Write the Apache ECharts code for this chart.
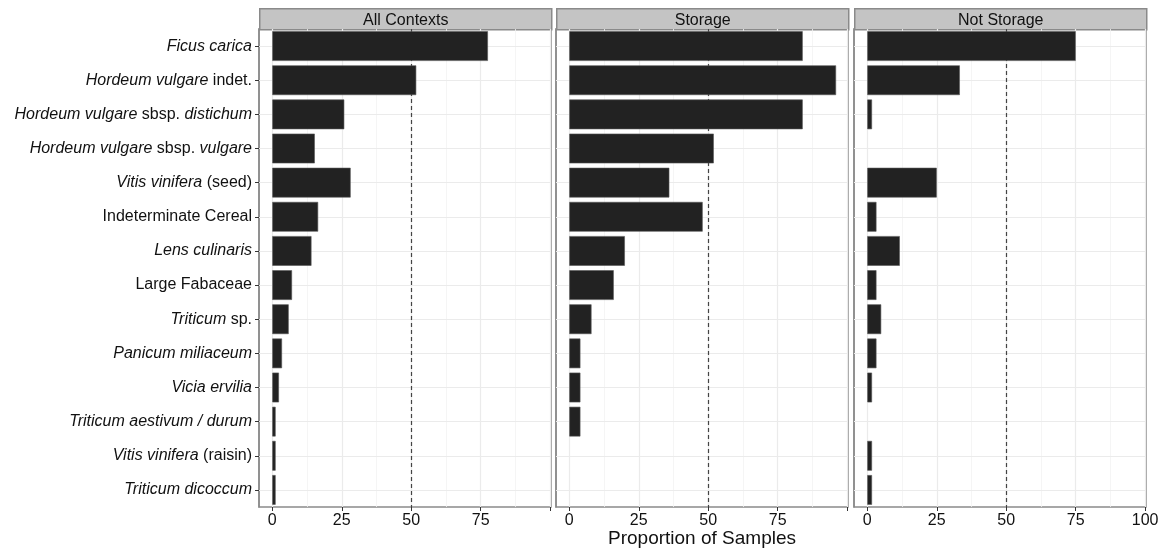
<!DOCTYPE html>
<html>
<head>
<meta charset="utf-8">
<title>Proportion of Samples</title>
<script src="https://cdn.jsdelivr.net/npm/echarts@6/dist/echarts.min.js"></script>
<style>
  html, body { margin: 0; padding: 0; background: #ffffff; }
  #chart { width: 1163px; height: 552px; }
</style>
</head>
<body>
<div id="chart"></div>
<script>
// Taxa, top to bottom; {i|...} marks the italic (Latin) part of each name
const categories = [
  '{i|Ficus carica}',
  '{i|Hordeum vulgare}{n| indet.}',
  '{i|Hordeum vulgare}{n| sbsp. }{i|distichum}',
  '{i|Hordeum vulgare}{n| sbsp. }{i|vulgare}',
  '{i|Vitis vinifera}{n| (seed)}',
  '{n|Indeterminate Cereal}',
  '{i|Lens culinaris}',
  '{n|Large Fabaceae}',
  '{i|Triticum}{n| sp.}',
  '{i|Panicum miliaceum}',
  '{i|Vicia ervilia}',
  '{i|Triticum aestivum / durum}',
  '{i|Vitis vinifera}{n| (raisin)}',
  '{i|Triticum dicoccum}'
];

// Facet titles
const panels = ['All Contexts', 'Storage', 'Not Storage'];

// Proportion of samples (%) in which each taxon occurs
const allContexts = [77.6, 51.8, 25.9, 15.3, 28.2, 16.5, 14.1, 7.1, 5.9, 3.5, 2.4, 1.2, 1.2, 1.2];
const storage     = [84, 96, 84, 52, 36, 48, 20, 16, 8, 4, 4, 4, 0, 0];
const notStorage  = [75, 33.3, 1.7, 0, 25, 3.3, 11.7, 3.3, 5, 3.3, 1.7, 0, 1.7, 1.7];

// Axis breaks
const majorTicks = [0, 25, 50, 75, 100];
const minorTicks = [12.5, 37.5, 62.5, 87.5];
const refLine = 50;

const seriesValues = [allContexts, storage, notStorage];

const FONT = '"Liberation Sans", Arial, Helvetica, sans-serif';
const GRID_COLOR = '#ebebeb';
const BORDER_COLOR = '#8a8a8a';

const panelLeft = [259, 556, 854];
const panelWidth = 292;
const panelTop = 29;
const panelHeight = 478;
const stripHeight = 21;

const chart = echarts.init(document.getElementById('chart'), null, { renderer: 'canvas' });

const grids = [], xAxes = [], yAxes = [], series = [], graphics = [];

panels.forEach((name, k) => {
  grids.push({
    left: panelLeft[k], top: panelTop, width: panelWidth, height: panelHeight,
    show: true, backgroundColor: '#ffffff',
    borderColor: BORDER_COLOR, borderWidth: 1.5,
    containLabel: false,
    outerBoundsMode: 'none'
  });

  xAxes.push({
    type: 'value', gridIndex: k,
    min: -4.78, max: 100.3,
    axisLine: { show: false },
    axisTick: {
      show: true, length: 4, inside: false,
      customValues: majorTicks,
      lineStyle: { color: '#333333', width: 1 }
    },
    axisLabel: {
      show: true, margin: 6,
      customValues: k === panels.length - 1 ? majorTicks : majorTicks.slice(0, -1),
      fontFamily: FONT, fontSize: 16, color: '#111111'
    },
    splitLine: { show: false },
    minorSplitLine: { show: false },
    name: k === 1 ? 'Proportion of Samples' : '',
    nameLocation: 'middle', nameGap: 22,
    nameMoveOverlap: false,
    nameTextStyle: { fontFamily: FONT, fontSize: 19, color: '#111111' }
  });

  yAxes.push({
    type: 'category', gridIndex: k, inverse: true,
    data: categories,
    axisLine: { show: true, onZero: false, lineStyle: { color: BORDER_COLOR, width: 1.5 } },
    axisTick: {
      show: k === 0, alignWithLabel: true, length: 4, inside: false,
      lineStyle: { color: '#333333', width: 1 }
    },
    axisLabel: {
      show: k === 0, margin: 7,
      fontFamily: FONT, fontSize: 16, color: '#111111',
      formatter: v => v,
      rich: {
        i: { fontFamily: FONT, fontSize: 16, fontStyle: 'italic', color: '#111111' },
        n: { fontFamily: FONT, fontSize: 16, fontStyle: 'normal', color: '#111111' }
      }
    },
    splitLine: { show: false }
  });

  // Background grid: major and minor verticals, one horizontal per taxon
  const gridLines = [];
  minorTicks.forEach(v => gridLines.push({ xAxis: v, lineStyle: { color: '#f2f2f2', width: 0.8, type: 'solid' } }));
  majorTicks.forEach(v => gridLines.push({ xAxis: v, lineStyle: { color: GRID_COLOR, width: 1.2, type: 'solid' } }));
  categories.forEach(c => gridLines.push({ yAxis: c, lineStyle: { color: GRID_COLOR, width: 1.2, type: 'solid' } }));
  gridLines.push({ xAxis: refLine, lineStyle: { color: '#444444', width: 1.2, type: [4, 3] } });

  series.push({
    type: 'bar', name: name,
    xAxisIndex: k, yAxisIndex: k,
    // taxa absent from a context get no outline, so nothing is drawn for them
    data: seriesValues[k].map(v => ({
      value: v,
      itemStyle: { borderWidth: v > 0 ? 0.6 : 0 }
    })),
    barWidth: '87%',
    z: 3,
    itemStyle: { color: '#222222', borderColor: '#555555' },
    silent: true,
    animation: false,
    markLine: {
      silent: true, symbol: 'none', z: 1,
      label: { show: false },
      emphasis: { disabled: true },
      animation: false,
      data: gridLines
    }
  });

  // Facet strip
  graphics.push({
    type: 'group',
    left: panelLeft[k], top: panelTop - stripHeight,
    children: [
      {
        type: 'rect',
        shape: { x: 0, y: 0, width: panelWidth, height: stripHeight },
        style: { fill: '#c4c4c4', stroke: BORDER_COLOR, lineWidth: 1.5 }
      },
      {
        type: 'text',
        x: panelWidth / 2, y: stripHeight / 2 + 1,
        style: {
          text: name, fontFamily: FONT, fontSize: 16, fill: '#111111',
          align: 'center', verticalAlign: 'middle'
        }
      }
    ]
  });
});

chart.setOption({
  animation: false,
  backgroundColor: '#ffffff',
  grid: grids,
  xAxis: xAxes,
  yAxis: yAxes,
  series: series,
  graphic: graphics
});
</script>
</body>
</html>
